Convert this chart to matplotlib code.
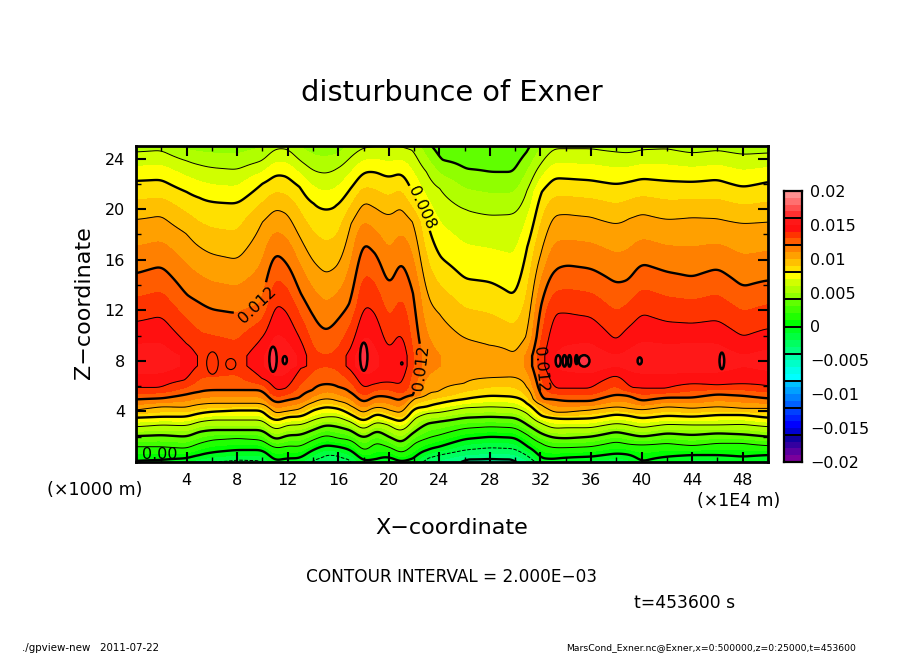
"""disturbance of Exner: cross section rebuilt from contour heights read off the picture"""
import numpy as np
import matplotlib
matplotlib.use('Agg')
import matplotlib.pyplot as plt
from matplotlib.colors import ListedColormap, BoundaryNorm
from matplotlib.patches import Ellipse
from matplotlib.ticker import MultipleLocator

plt.rcParams['font.family'] = ['DejaVu Sans']

nan = np.nan
W, H = 904, 654

#############################################
# DATA
#############################################

x_nodes = [0, 2, 4, 5, 6, 8, 10, 11, 12, 13, 14, 15, 16, 17, 18, 19, 20, 21, 22, 23, 24, 26, 28,
           30, 31, 32, 33, 34, 36, 38, 39, 40, 42, 44, 46, 48, 50]

# height (x1000 m) of each contour below the core
low_m004 = [-1.5, -1.5, -1.5, -1.5, -1.5, -1.5, -1.5, -1.5, -1.5, -1.5, -1.5, -1.5, -1.5, -1.5, -1.5, -1.5, -1.5, -1.5, -1.5, -1.0, -.3,
            .2, .25, .2, -.2, -1.5, -1.5, -1.5, -1.5, -1.5, -1.5, -1.5, -1.5, -1.5, -1.5, -1.5, -1.5]
low_m002 = [-.4, -.4, -.3, -.1, 0, .16, .1, -.6, -.4, -.3, .16, .6, .5, .2, -.8, -.4, -.3, -.8, -.3, .3, .55,
            .95, 1.13, 1.05, .5, -.3, -.4, -.2, -.1, -.1, -.2, -.6, -.3, -.2, -.2, -.3, -.2]
low_000 = [.08, .16, .29, .55, .76, .95, .95, .08, .29, .29, .95, 1.34, 1.21, .95, .08, .23, .42, 0, .29, .95, 1.21,
           1.81, 2.0, 1.92, 1.21, .29, .23, .34, .42, .68, .6, 0, .42, .55, .55, .42, .55]
low_002 = [1.21, 1.21, 1.08, 1.48, 1.74, 1.87, 1.74, 1.08, 1.29, 1.21, 1.74, 2.13, 1.87, 1.74, .82, 1.61, 1.21, .68, 1.48, 1.87, 2.13,
           2.66, 2.79, 2.71, 2.13, 1.48, 1.13, 1.13, 1.21, 1.61, 1.4, 1.34, 1.48, 1.29, 1.48, 1.48, 1.29]
low_004 = [2.05, 2.13, 2.0, 2.4, 2.53, 2.53, 2.53, 1.74, 2.13, 2.13, 2.53, 2.93, 2.79, 2.53, 1.87, 2.53, 2.0, 1.48, 2.4, 3.06, 3.19,
           3.5, 3.58, 3.5, 2.93, 2.27, 1.92, 1.87, 2.0, 2.4, 2.19, 2.0, 2.27, 2.13, 2.27, 2.19, 2.0]
low_006 = [2.79, 2.93, 2.87, 3.19, 3.32, 3.32, 3.32, 2.53, 2.93, 2.93, 3.32, 3.58, 3.58, 3.19, 2.53, 3.19, 2.93, 2.4, 3.45, 3.85, 3.92,
           4.29, 4.37, 4.29, 3.85, 3.06, 2.66, 2.71, 2.71, 3.06, 2.93, 2.71, 2.98, 2.93, 2.93, 2.98, 2.79]
low_008 = [3.5, 3.58, 3.58, 3.85, 3.98, 4.08, 4.08, 3.24, 3.58, 3.58, 4.11, 4.37, 4.24, 3.77, 3.19, 3.85, 3.5, 3.13, 4.24, 4.37, 4.64,
           4.98, 5.24, 5.16, 4.64, 3.66, 3.45, 3.4, 3.45, 3.77, 3.66, 3.45, 3.66, 3.58, 3.72, 3.72, 3.5]
low_010 = [4.11, 4.37, 4.32, 4.56, 4.64, 4.64, 4.64, 3.77, 4.03, 4.16, 4.72, 5.03, 4.82, 4.45, 3.77, 4.37, 4.11, 3.77, 5.03, 5.43, 5.56,
           6.22, 6.67, 6.74, 5.95, 4.5, 3.93, 3.93, 4.11, 4.37, 4.24, 4.11, 4.37, 4.24, 4.37, 4.24, 4.24]
low_012 = [4.95, 5.03, 5.35, 5.56, 5.69, 5.69, 5.69, 4.64, 4.9, 5.09, 5.69, 6.2, 5.95, 5.56, 4.64, 5.24, 5.16, 4.77, 5.3, nan, nan,
           nan, nan, nan, nan, 5.0, 4.95, 4.82, 4.82, 5.35, 5.24, 4.82, 5.09, 5.09, 5.35, 5.24, 5.03]
low_014 = [5.9, 5.9, 6.5, nan, nan, nan, 6.62, 5.56, 5.83, 7.41, nan, nan, nan, 7.28, 5.7, 6.22, 6.35, 5.96, nan, nan, nan,
           nan, nan, nan, nan, nan, 5.83, 5.83, 5.83, 6.88, 5.9, 5.83, 5.83, 6.2, 6.09, 6.2, 6.01]

# largest value in each column, flat from about 7600 to 8400 m
core_low, core_high = 7.6, 8.4
core_val = [.0155, .0155, .0148, .0138, .0138, .0135, .0148, .0158, .0155, .0148, .0132, .0130, .0132, .0145, .0158, .0152, .0142, .0150, .0128, .0115, .0110,
            .0105, .0109, .0104, .0112, .0135, .0150, .0153, .0155, .0150, .0153, .0155, .0155, .0156, .0155, .0150, .0153]

# height of each contour above the core
up_014 = [11.1, 11.55, 9.38, nan, nan, nan, 9.78, 12.68, 11.89, 9.78, nan, nan, nan, 8.99, 12.55, 11.76, 8.7, 10.44, nan, nan, nan,
          nan, nan, nan, nan, nan, 11.76, 11.81, 11.49, 9.52, 10.7, 11.76, 11.1, 10.97, 11.23, 9.91, 10.57]
up_012 = [14.91, 15.49, 13.2, 12.6, 12.07, 11.76, 12.5, 16.62, 15.7, 13.33, 11.49, 10.3, 11.23, 12.54, 17.55, 16.49, 13.72, 16.1, 13.33, nan, nan,
          nan, nan, nan, nan, 12.41, 15.17, 15.57, 15.3, 14.12, 14.38, 15.7, 15.04, 14.65, 15.3, 13.86, 14.38]
up_010 = [19.18, 19.49, 18.07, 17.0, 16.44, 16.02, 18.99, 20.05, 19.65, 17.68, 15.83, 14.83, 15.49, 18.86, 20.65, 20.05, 19.44, 20.31, 18.99, 13.2, 11.7,
          9.78, 9.25, 8.46, 9.91, 16.49, 19.52, 19.6, 19.39, 18.81, 19.26, 19.65, 19.18, 19.34, 19.26, 18.86, 18.99]
up_008 = [22.24, 22.34, 21.37, 20.9, 20.57, 20.44, 22.02, 22.74, 22.6, 21.76, 20.44, 19.9, 20.31, 21.63, 22.95, 22.95, 22.5, 22.9, 20.97, 18.86, 16.23,
          14.5, 14.25, 13.07, 17.02, 21.37, 22.47, 22.42, 22.29, 21.97, 22.16, 22.42, 22.24, 22.16, 22.34, 21.76, 22.16]
up_006 = [24.53, 24.66, 23.82, 23.5, 23.29, 23.13, 23.82, 24.79, 24.79, 23.82, 23.03, 22.8, 23.21, 24.13, 24.87, 24.98, 24.92, 24.98, 24.66, 22.95, 21.63,
          19.97, 19.52, 19.6, 21.5, 23.6, 24.79, 24.79, 24.79, 24.53, 24.45, 24.71, 24.79, 24.45, 24.66, 24.34, 24.45]
up_004 = [26.5, 26.5, 25.6, 25.6, 25.6, 25.6, 26.0, 26.5, 26.5, 26.0, 25.5, 25.5, 25.5, 26.5, 26.5, 26.5, 26.5, 26.5, 26.0, 25.3, 23.92,
          23.21, 22.95, 22.95, 24.53, 26.0, 26.5, 26.5, 26.5, 26.5, 26.5, 26.5, 26.5, 26.5, 26.5, 26.5, 26.5]

low_levels = [-.004, -.002, 0, .002, .004, .006, .008, .010, .012, .014]
low_heights = [low_m004, low_m002, low_000, low_002, low_004, low_006, low_008, low_010, low_012, low_014]
up_levels = [.014, .012, .010, .008, .006, .004]
up_heights = [up_014, up_012, up_010, up_008, up_006, up_004]

# small closed contours too narrow for the columns: x, z, width, height
peak_016 = [(10.84, 8.13, .58, 1.98), (11.77, 8.06, .33, .63), (18.02, 8.33, .58, 2.22), (21.03, 7.8, .1, .15),
            (33.4, 8.0, .4, .9), (33.9, 8.0, .3, .9), (34.3, 8.0, .25, .9), (34.85, 8.1, .2, .7), (35.45, 8.0, .85, .9),
            (39.85, 8.0, .33, .55), (46.35, 8.0, .37, 1.3)]
peak_014 = [(6.05, 7.83, .92, 1.77), (7.5, 7.75, .8, .87)]

# colour bar, one colour for each 0.001 from -0.02 to 0.02
cb_colors = ['#7b009b', '#5a00a0', '#3300a0', '#1000a0',
             '#0000d0', '#0000ff', '#0020ff', '#0040ff',
             '#0060ff', '#0080ff', '#00a0ff', '#00c0ff',
             '#00ffff', '#00ffe8', '#00ffc8', '#00ffa8',
             '#00ff80', '#00ff60', '#00ff40', '#00ff20',
             '#00ff00', '#20ff00', '#40ff00', '#60ff00',
             '#90ff00', '#b0ff00', '#d0ff00', '#ffff00',
             '#ffe000', '#ffc000', '#ffa000', '#ff8000',
             '#ff5c00', '#ff3400', '#ff1010', '#ff1818',
             '#ff3030', '#ff5050', '#ff7070', '#ff9090']
cb_ticks = [-.02, -.015, -.01, -.005, 0, .005, .01, .015, .02]
cb_ticklabels = ['\u22120.02', '\u22120.015', '\u22120.01', '\u22120.005', '0', '0.005', '0.01', '0.015', '0.02']
cb_dividers = [-.016, -.012, -.008, -.004, 0, .004, .008, .012, .016]

thin_levels = [-.002, .002, .006, .010, .014]
thick_levels = [-.004, 0, .004, .008, .012]
label_spots = [(9.8, 12.0), (22.3, 20.0), (22.1, 7.6)]
x_ticks = [4, 8, 12, 16, 20, 24, 28, 32, 36, 40, 44, 48]
z_ticks = [4, 8, 12, 16, 20, 24]


#############################################
# FUNCTIONS
#############################################


def column_profile(i, z_grid):
    zs, vals = [-3.0], [-.006]
    for level, heights in zip(low_levels, low_heights):
        if not np.isnan(heights[i]):
            zs.append(heights[i])
            vals.append(level)
    zs += [core_low, core_high]
    vals += [core_val[i], core_val[i]]
    for level, heights in zip(up_levels, up_heights):
        if not np.isnan(heights[i]):
            zs.append(heights[i])
            vals.append(level)
    zs.append(29.0)
    vals.append(.002)
    return np.interp(z_grid, zs, vals)


def smooth_columns(field, x_fine, half_width=7):
    # the columns are far apart, this only rounds the kinks between them
    kernel = np.hanning(2 * half_width + 3)[1:-1]
    kernel = kernel / kernel.sum()
    fine = np.array([np.interp(x_fine, x_nodes, row) for row in field])
    padded = np.pad(fine, ((0, 0), (half_width, half_width)), mode='edge')
    return np.array([np.convolve(row, kernel, mode='valid') for row in padded])


def put_text(px, py, s, size, **kwargs):
    kwargs.setdefault('ha', 'center')
    kwargs.setdefault('va', 'center')
    fig.text(px / W, 1 - py / H, s, fontsize=size, **kwargs)


#############################################
# MAIN
#############################################

z_grid = np.arange(0, 25.01, .05)
x_fine = np.arange(0, 50.01, .1)
field = np.array([column_profile(i, z_grid) for i in range(len(x_nodes))]).T
field = smooth_columns(field, x_fine)

bounds = np.arange(-20, 21) / 1000
cmap = ListedColormap(cb_colors)
norm = BoundaryNorm(bounds, cmap.N)

fig = plt.figure(figsize=(W / 100, H / 100), dpi=100)
ax = fig.add_axes([136 / W, 1 - 462 / H, 632 / W, 316 / H])

ax.contourf(x_fine, z_grid, field, levels=bounds, cmap=cmap, norm=norm)
ax.contour(x_fine, z_grid, field, levels=thin_levels, colors='k', linewidths=.7,
           linestyles=['dashed', 'solid', 'solid', 'solid', 'solid'])
cs = ax.contour(x_fine, z_grid, field, levels=thick_levels, colors='k', linewidths=1.7, linestyles='solid')
ax.clabel(cs, fmt={-.004: '', 0: '0.00', .004: '0.004', .008: '0.008', .012: '0.012'}, manual=label_spots,
          fontsize=11.5, inline_spacing=2)
# these two by hand, the lines are split there in the picture
ax.text(32.0, 7.3, '0.012', rotation=-85, fontsize=11.5, ha='center', va='center')
ax.text(1.9, .6, '0.00', fontsize=11.5, ha='center', va='center')

for cx, cz, w, h in peak_016:
    ax.add_patch(Ellipse((cx, cz), w, h, facecolor='#ff3040', edgecolor='k', linewidth=1.8))
for cx, cz, w, h in peak_014:
    ax.add_patch(Ellipse((cx, cz), w, h, fill=False, edgecolor='k', linewidth=.8))

ax.set_xlim(0, 50)
ax.set_ylim(0, 25)
ax.set_xticks(x_ticks)
ax.set_yticks(z_ticks)
ax.xaxis.set_minor_locator(MultipleLocator(2))
ax.yaxis.set_minor_locator(MultipleLocator(2))
ax.tick_params(which='major', direction='in', top=True, right=True, length=7, width=1.5, labelsize=11.5, pad=8)
ax.tick_params(which='minor', direction='in', top=True, right=True, length=3.5, width=1)
for spine in ax.spines.values():
    spine.set_linewidth(2)

cax = fig.add_axes([784 / W, 1 - 462 / H, 18 / W, 271 / H])
cax.pcolormesh([0, 1], bounds, np.arange(40).reshape(-1, 1), cmap=cmap, vmin=-.5, vmax=39.5)
cax.hlines(cb_dividers, 0, 1, colors='k', linewidth=1.4)
cax.set_xticks([])
cax.yaxis.tick_right()
cax.set_yticks(cb_ticks)
cax.set_yticklabels(cb_ticklabels)
cax.tick_params(axis='y', length=0, labelsize=11.5, pad=6)
for spine in cax.spines.values():
    spine.set_linewidth(1.6)

put_text(452, 93, 'disturbunce of Exner', 20.8)
put_text(452, 528, 'X\u2212coordinate', 16)
put_text(84, 303, 'Z\u2212coordinate', 16, rotation=90)
put_text(452, 577, 'CONTOUR INTERVAL = 2.000E\u221203', 12.2)
put_text(685, 603, 't=453600 s', 12.3)
put_text(95, 490, '(\u00d71000 m)', 12.6)
put_text(739, 501, '(\u00d71E4 m)', 12.4)
put_text(22, 648, './gpview-new   2011-07-22', 7.4, ha='left')
put_text(856, 648, 'MarsCond_Exner.nc@Exner,x=0:500000,z=0:25000,t=453600', 6.7, ha='right')

fig.savefig('out.png', dpi=100)
